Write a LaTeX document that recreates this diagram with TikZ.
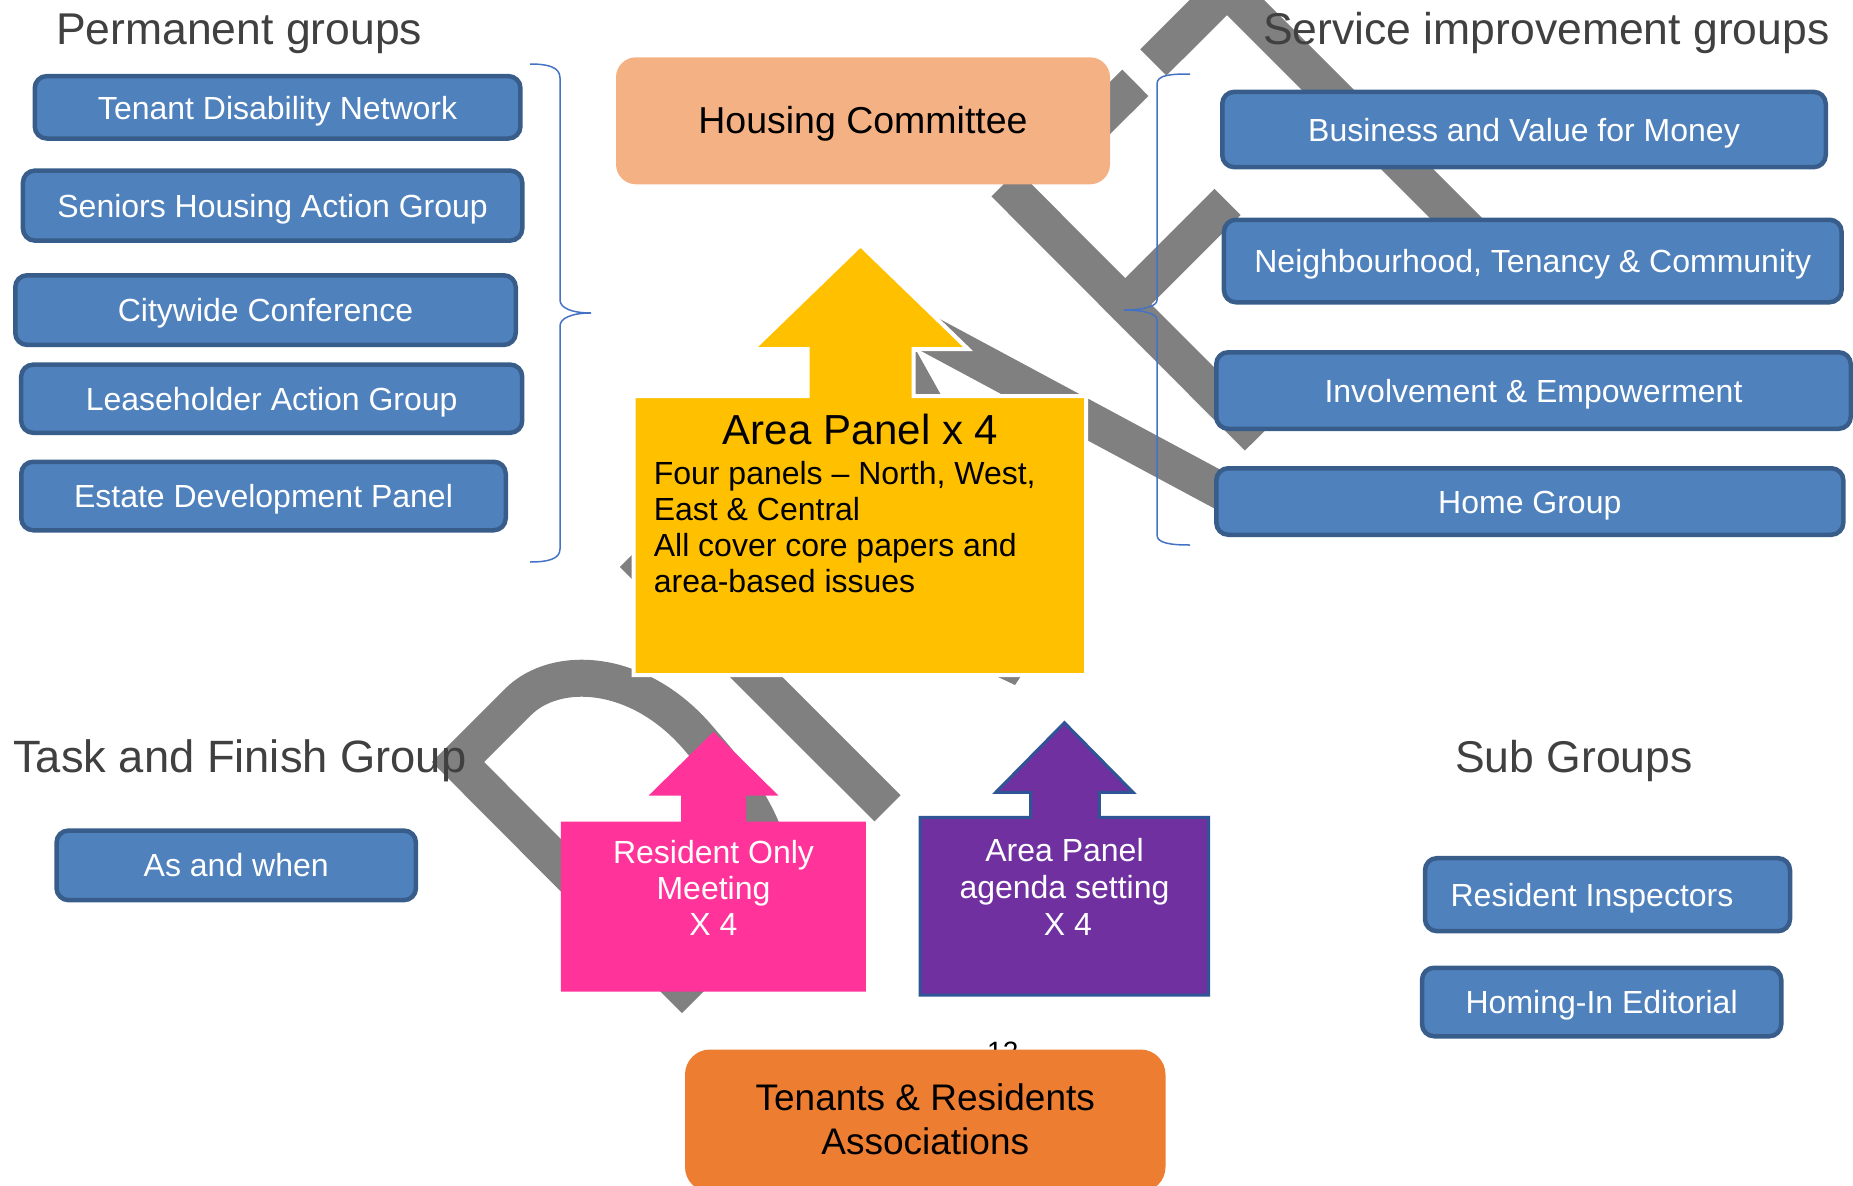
\documentclass[tikz,border=0pt]{standalone}
\usepackage{fontspec}
\setmainfont{Liberation Sans}
\newcommand{\myfs}[1]{\fontsize{#1pt}{#1pt}\selectfont}
\definecolor{boxblue}{HTML}{4F81BD}
\definecolor{boxedge}{HTML}{385D8A}
\definecolor{bandgray}{HTML}{808080}
\definecolor{cpeach}{HTML}{F4B183}
\definecolor{cgold}{HTML}{FFC000}
\definecolor{cpink}{HTML}{FF3399}
\definecolor{cviolet}{HTML}{7030A0}
\definecolor{cvioletedge}{HTML}{2F5597}
\definecolor{corange}{HTML}{ED7D31}
\definecolor{titlegray}{HTML}{404040}
\definecolor{bracecol}{HTML}{4472C4}
\begin{document}
\begin{tikzpicture}[x=1pt,y=-1pt,
  bluebox/.style={draw=boxedge, line width=4.5pt, fill=boxblue, rounded corners=12pt,
    text=white, font=\myfs{32}, inner sep=0pt, text height=23pt, text depth=0pt},
  ttl/.style={anchor=base west, inner sep=0pt, text=titlegray, font=\myfs{44.5}},
  lbl/.style={anchor=base, inner sep=0pt, font=\myfs{32}},
  band/.style={draw=bandgray, line width=37pt, line cap=butt, line join=miter},
  bracestyle/.style={draw=bracecol, line width=1.5pt}]
\useasboundingbox (0,0) rectangle (1853,1186);
\clip (0,0) rectangle (1853,1186);

% gray background bands
\draw[band] (1153.3,62.5) -- (1226.9,-11) -- (1500,262);
\draw[band] (1135.3,82.8) -- (1075,143);
\draw[band] (1004.5,183.3) -- (1258,437.5);
\draw[band] (1124.5,305) -- (1227.5,202);
\draw[band] (895,316) -- (1260,512);
\fill[bandgray] (905,352) -- (917,352) -- (941,395) -- (905,395) -- cycle;
\draw[band] (700,513) -- (646,567) -- (887.5,808.3);
\fill[bandgray] (996,676) -- (1021,676) -- (1015,685) -- cycle;
\draw[band] (760,909) -- (682,987) -- (458,762) -- (518,702)
   .. controls (556,664) and (640,668) .. (700,740)
   .. controls (730,775) and (752,800) .. (768,845) -- (790,905);

% braces
\draw[bracestyle] (530,64) .. controls (548,64) and (560,67) .. (560,78) -- (560,300)
   .. controls (560,308) and (572,313) .. (591,313)
   .. controls (572,313) and (560,318) .. (560,326) -- (560,549)
   .. controls (560,559) and (548,562) .. (530,562);
\draw[bracestyle] (1190,74) .. controls (1170,74) and (1157,75) .. (1157,84) -- (1157,300)
   .. controls (1157,306) and (1145,310) .. (1124,310)
   .. controls (1145,310) and (1157,314) .. (1157,320) -- (1157,535)
   .. controls (1157,543) and (1170,545) .. (1190,545);

% titles
\node[ttl] (tperm) at (56,44.6) {Permanent groups};
\node[ttl] (tserv) at (1263,44.6) {Service improvement groups};

% permanent groups
\node[bluebox, minimum width=485.7pt, minimum height=62.4pt, text height=25pt] (tdn) at (277.6,107.3) {Tenant Disability Network};
\node[bluebox, minimum width=499.3pt, minimum height=70pt] (shag) at (272.6,205.6) {Seniors Housing Action Group};
\node[bluebox, minimum width=500.5pt, minimum height=69.7pt] (cwc) at (265.5,310.1) {Citywide Conference};
\node[bluebox, minimum width=501pt, minimum height=68.2pt] (lag) at (271.7,398.7) {Leaseholder Action Group};
\node[bluebox, minimum width=484.5pt, minimum height=68.5pt] (edp) at (263.5,496) {Estate Development Panel};

% service improvement groups
\node[bluebox, minimum width=603.5pt, minimum height=75.3pt] (bvm) at (1524,129.5) {Business and Value for Money};
\node[bluebox, minimum width=617.6pt, minimum height=82.5pt] (ntc) at (1532.75,261) {Neighbourhood, Tenancy \& Community};
\node[bluebox, minimum width=634.5pt, minimum height=76.5pt] (ie) at (1533.5,390.5) {Involvement \& Empowerment};
\node[bluebox, minimum width=627pt, minimum height=66.5pt] (hg) at (1529.8,501.5) {Home Group};

% housing committee
\node[fill=cpeach, rounded corners=20pt, minimum width=494pt, minimum height=127pt, inner sep=0pt] (hc) at (863,120.8) {};
\node[lbl, font=\myfs{37.5}] (hct) at (863,133) {Housing Committee};

% area panel arrow
\draw[white, line width=4pt, fill=cgold, line join=miter] (633.5,396) -- (807.5,396) -- (807.5,349) -- (753,349)
  -- (860.5,245) -- (968,349) -- (913.7,349) -- (913.7,396) -- (1086,396) -- (1086,675) -- (633.5,675) -- cycle;
\node[lbl, font=\myfs{42}] (apt) at (860.5,444.4) {Area Panel x 4};
\node[lbl, anchor=base west] (ap1) at (653.6,484) {Four panels – North, West,};
\node[lbl, anchor=base west] (ap2) at (653.6,520.3) {East \& Central};
\node[lbl, anchor=base west] (ap3) at (653.6,556.6) {All cover core papers and};
\node[lbl, anchor=base west] (ap4) at (653.6,592.9) {area-based issues};

% task and finish / sub groups
\node[ttl, font=\myfs{45.3}] (ttask) at (13,772) {Task and Finish Group};
\node[ttl] (tsub) at (1455,772) {Sub Groups};
\node[bluebox, minimum width=359.4pt, minimum height=69.6pt] (aw) at (236.25,865.35) {As and when};
\node[bluebox, minimum width=365pt, minimum height=73pt] (ri) at (1607.5,894.65) {Resident Inspectors\hspace*{31pt}};
\node[bluebox, minimum width=359.2pt, minimum height=68.5pt] (hie) at (1601.65,1002) {Homing-In Editorial};

% resident only meeting arrow
\fill[cpink] (560.8,821.7) -- (681,821.7) -- (681,795.7) -- (648.5,795.7) -- (713.6,731.7) -- (778.6,795.7)
  -- (746,795.7) -- (746,821.7) -- (865.8,821.7) -- (865.8,991.7) -- (560.8,991.7) -- cycle;
\node[lbl, text=white] (rom1) at (713.5,863.3) {Resident Only};
\node[lbl, text=white] (rom2) at (713.5,899.5) {Meeting};
\node[lbl, text=white] (rom3) at (713.5,935.7) {X 4};

% agenda setting arrow
\draw[cvioletedge, line width=3pt, fill=cviolet, line join=miter] (920,817.3) -- (1030.7,817.3) -- (1030.7,792.3) -- (995.8,792.3)
  -- (1064.4,722.7) -- (1133,792.3) -- (1099.3,792.3) -- (1099.3,817.3) -- (1208.7,817.3) -- (1208.7,995) -- (920,995) -- cycle;
\node[lbl, text=white] (ags1) at (1064.5,861) {Area Panel};
\node[lbl, text=white] (ags2) at (1064.5,898) {agenda setting};
\node[lbl, text=white] (ags3) at (1068,935) {X 4};

% page number and TRA
\node[anchor=base west, inner sep=0pt, font=\myfs{28}] (pnum) at (987,1061) {12};
\node[fill=corange, rounded corners=25pt, minimum width=480.5pt, minimum height=142.5pt, inner sep=0pt] (tra) at (925.25,1120.75) {};
\node[lbl, font=\myfs{37}] (tra1) at (925.25,1110.5) {Tenants \& Residents};
\node[lbl, font=\myfs{37}] (tra2) at (925.25,1154) {Associations};
\end{tikzpicture}
\end{document}
